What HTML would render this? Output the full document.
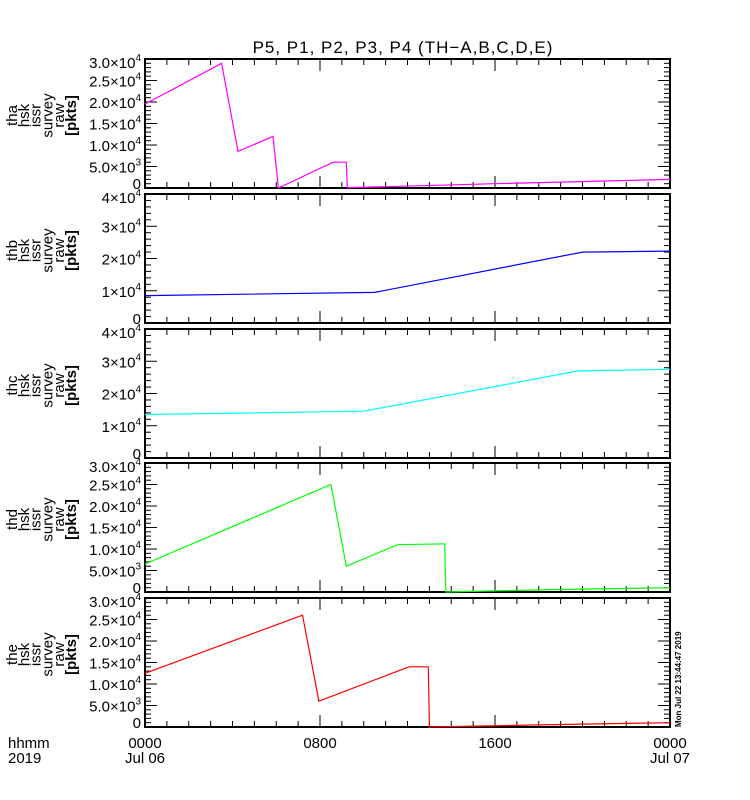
<!DOCTYPE html>
<html><head><meta charset="utf-8"><style>
html,body{margin:0;padding:0;background:#fff;}
svg{display:block;font-family:"Liberation Sans",sans-serif;}
</style></head><body>
<svg id="c" width="750" height="800" xmlns="http://www.w3.org/2000/svg">
<text x="403" y="53" font-size="17" letter-spacing="1" text-anchor="middle">P5, P1, P2, P3, P4 (TH−A,B,C,D,E)</text>
</svg>
<script>
const probes = ["tha","thb","thc","thd","the"];
const colors = ["#ff00ff","#0000ff","#00ffff","#00ff00","#ff0000"];
const yMax = [30000,40000,40000,30000,30000];
const yMajor = [5000,10000,10000,5000,5000];
const thaT = [0,3.5,4.25,5.85,6.1,8.6,9.2,9.25,11,16,24];
const thaV = [19500,29000,8500,12000,0,6000,6000,100,300,1000,2000];
const thbT = [0,10.5,20,24];
const thbV = [8500,9500,22000,22300];
const thcT = [0,10,19.8,24];
const thcV = [13500,14500,27000,27500];
const thdT = [0,8.5,9.2,11.55,13.7,13.75,18,24];
const thdV = [6500,25000,6000,11000,11200,0,500,1000];
const theT = [0,7.2,7.95,12.07,12.95,13.0,18,24];
const theV = [12500,26000,6000,14000,14000,0,500,1000];
const seriesT = [thaT,thbT,thcT,thdT,theT];
const seriesV = [thaV,thbV,thcV,thdV,theV];
const xTicks = [0,8,16,24];
const xTickLabels = ["0000","0800","1600","0000"];
const xDateLabels = ["Jul 06","","","Jul 07"];

const svg = document.getElementById('c');
const NS = "http://www.w3.org/2000/svg";
const L = 145, R = 670, H = 129;
const tops = [59,194,329,463,598];
function mk(tag, attrs, parent){const e=document.createElementNS(NS,tag);for(const k in attrs)e.setAttribute(k,attrs[k]);(parent||svg).appendChild(e);return e;}
function xs(h){return L + h/24*(R-L);}
function fmtLabel(v, major){
  if(v===0) return {m:"0",e:null};
  const e = Math.floor(Math.log10(v));
  let m = v/Math.pow(10,e);
  const s = (major===5000) ? m.toFixed(1) : String(Math.round(m));
  return {m:s+"×10",e:String(e)};
}
probes.forEach((p,i)=>{
  const top = tops[i], bot = top+H;
  const ys = v => bot - v/yMax[i]*H;
  const g = mk('g',{});
  
  
  const fr = mk('rect',{x:L,y:top,width:R-L,height:H,fill:'none',stroke:'#000','stroke-width':2},g);
  
  
  const minor = yMajor[i]/5;
  for(let v=0; v<=yMax[i]+1; v+=minor){
    const y = ys(v); const isM = Math.abs(v/yMajor[i]-Math.round(v/yMajor[i]))<1e-6;
    const len = isM?12:6;
    mk('line',{x1:L,y1:y,x2:L+len,y2:y,stroke:'#000','stroke-width':1},g);
    mk('line',{x1:R,y1:y,x2:R-len,y2:y,stroke:'#000','stroke-width':1},g);
    if(isM){
      const f = fmtLabel(v,yMajor[i]);
      let by = Math.min(Math.max(y+6, top+9), bot+1);
      const t = mk('text',{x:L-4,y:by,'font-size':15,'text-anchor':'end'},g);
      
      
      t.appendChild(document.createTextNode(f.m));
      if(f.e){
        const ts = mk('tspan',{dy:-7,'font-size':10},t); ts.textContent=f.e;
      }
    }
  }
  for(let h=0; h<=24; h++){
    const x = xs(h); const isM = h%8===0; const len = isM?12:6;
    mk('line',{x1:x,y1:bot,x2:x,y2:bot-len,stroke:'#000','stroke-width':1},g);
    mk('line',{x1:x,y1:top,x2:x,y2:top+len,stroke:'#000','stroke-width':1},g);
  }
  const T = seriesT[i], V = seriesV[i];
  const pts = T.map((t,k)=>xs(t).toFixed(1)+','+ys(V[k]).toFixed(1)).join(' ');
  const pl = mk('polyline',{points:pts,fill:'none',stroke:colors[i],'stroke-width':1.2},g);
  
  
  const words = [p,"hsk","issr","survey","raw","[pkts]"];
  const cy = top + H/2 - 8;
  words.forEach((w,k)=>{
    const x = 17 + k*11.8;
    const t = mk('text',{x:x,y:cy,'font-size':15,'text-anchor':'middle',transform:`rotate(-90 ${x} ${cy})`,'font-weight':k===5?'bold':'normal'},g);
    
    
    t.textContent = w;
  });
});
xTicks.forEach((h,k)=>{
  const x = xs(h);
  const t = mk('text',{x:x,y:748,'font-size':15,'text-anchor':'middle'});
  
  
  t.textContent = xTickLabels[k];
  if(xDateLabels[k]){
    const d = mk('text',{x:x,y:763,'font-size':15,'text-anchor':'middle'});
    
    
    d.textContent = xDateLabels[k];
  }
});
const a = mk('text',{x:8,y:748,'font-size':15});


a.textContent='hhmm';
const b = mk('text',{x:8,y:763,'font-size':15});


b.textContent='2019';
const ts = mk('text',{x:681,y:727,'font-size':8,'font-weight':'bold',transform:'rotate(-90 681 727)'});


ts.textContent='Mon Jul 22 13:44:47 2019';
</script>
</body></html>
